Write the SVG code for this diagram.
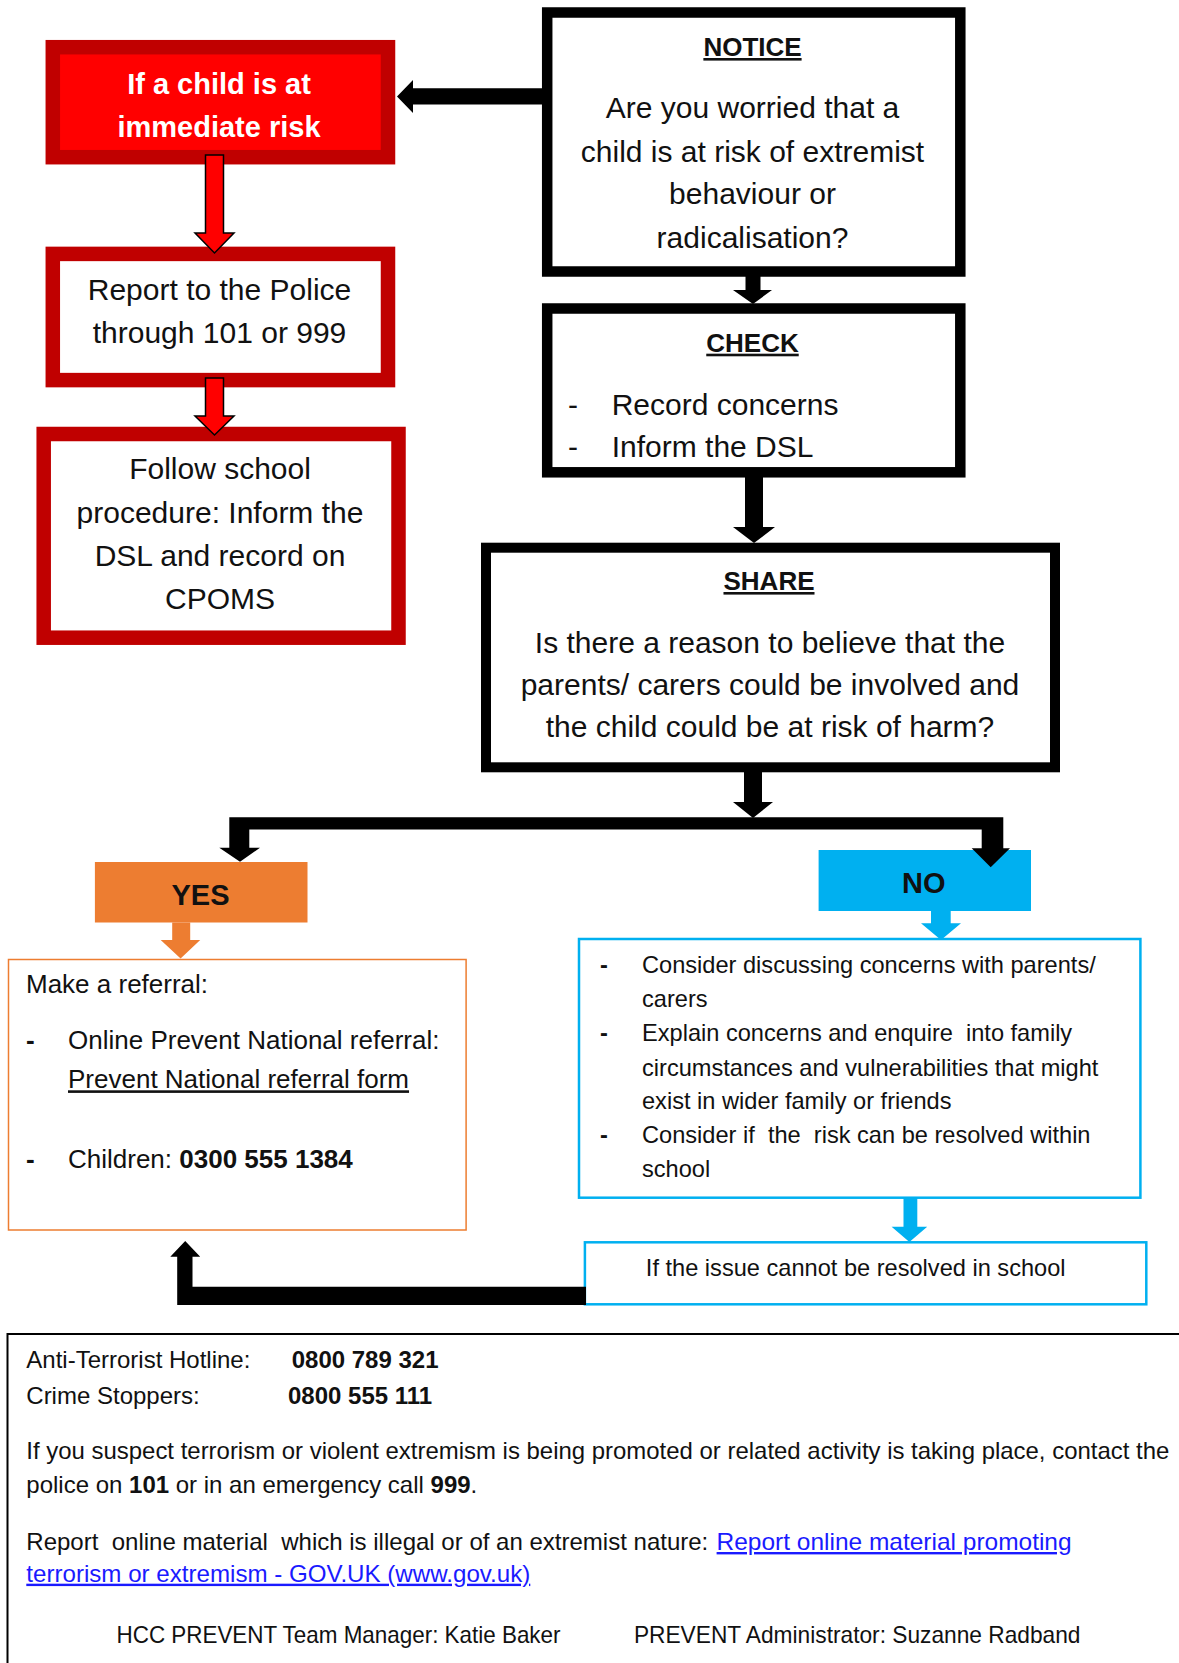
<svg xmlns="http://www.w3.org/2000/svg" width="1179" height="1663" viewBox="0 0 1179 1663">
<style>
text{font-family:"Liberation Sans",Arial,sans-serif;fill:#111;white-space:pre}
.b{font-weight:bold}
.c{text-anchor:middle}
.u{text-decoration:underline}
.m{font-size:30px}
.h{font-size:26px;font-weight:bold;text-decoration:underline}
.r{font-size:26px}
.s{font-size:23.6px}
.f{font-size:24px}
.lk{fill:#1a1aff;text-decoration:underline}
.redbox{fill:#fff;stroke:#C00000;stroke-width:14.5}
.blk{fill:#fff;stroke:#000;stroke-width:10.5}
.bl{fill:#fff;stroke:#00B0F0;stroke-width:2.5}
</style>
<rect width="1179" height="1663" fill="#fff"/>

<g id="immediate-risk">
<rect x="52.8" y="47.2" width="335.2" height="110" fill="#FF0000" stroke="#C00000" stroke-width="14.5"/>
<text class="b c" x="219" y="94.3" font-size="29" style="fill:#fff">If a child is at</text>
<text class="b c" x="219" y="137.3" font-size="29" style="fill:#fff">immediate risk</text>
</g>

<g id="report-police">
<rect class="redbox" x="52.8" y="253.9" width="335.2" height="126.2"/>
<text class="m c" x="219.5" y="299.5">Report to the Police</text>
<text class="m c" x="219.5" y="343">through 101 or 999</text>
</g>

<g id="follow-procedure">
<rect class="redbox" x="43.7" y="434" width="354.8" height="203.7"/>
<text class="m c" x="220" y="479.3">Follow school</text>
<text class="m c" x="220" y="523.3">procedure: Inform the</text>
<text class="m c" x="220" y="565.7">DSL and record on</text>
<text class="m c" x="220" y="609">CPOMS</text>
</g>

<g id="notice">
<rect class="blk" x="547.2" y="12.5" width="413.1" height="259"/>
<text class="h c" x="752.5" y="56">NOTICE</text>
<text class="m c" x="752.5" y="118.3">Are you worried that a</text>
<text class="m c" x="752.5" y="161.7">child is at risk of extremist</text>
<text class="m c" x="752.5" y="204.3">behaviour or</text>
<text class="m c" x="752.5" y="247.7">radicalisation?</text>
</g>

<g id="check">
<rect class="blk" x="547.2" y="308.5" width="413.1" height="163.8"/>
<text class="h c" x="752.5" y="351.7">CHECK</text>
<text class="m" x="568" y="415">-</text>
<text class="m" x="611.7" y="415" font-size="29">Record concerns</text>
<text class="m" x="568" y="456.7">-</text>
<text class="m" x="611.7" y="456.7" font-size="29">Inform the DSL</text>
</g>

<g id="share">
<rect x="486" y="547.7" width="569" height="219.6" fill="#fff" stroke="#000" stroke-width="10"/>
<text class="h c" x="769" y="590">SHARE</text>
<text class="m c" x="770" y="653.3">Is there a reason to believe that the</text>
<text class="m c" x="770" y="695">parents/ carers could be involved and</text>
<text class="m c" x="770" y="737.3">the child could be at risk of harm?</text>
</g>

<g id="yes">
<rect x="94.9" y="862" width="212.6" height="60.5" fill="#ED7D31"/>
<text class="b c" x="200.5" y="905" font-size="29">YES</text>
</g>

<g id="no">
<rect x="818.6" y="850" width="212.4" height="61" fill="#00B0F0"/>
<text class="b c" x="923.7" y="893" font-size="29">NO</text>
</g>

<g id="referral">
<rect x="8.5" y="959.5" width="457.6" height="270.5" fill="#fff" stroke="#ED7D31" stroke-width="1.5"/>
<text class="r" x="26" y="993.3">Make a referral:</text>
<text class="r b" x="26" y="1049.3">-</text>
<text class="r" x="68" y="1049.3">Online Prevent National referral:</text>
<text class="r u" x="68" y="1088.3">Prevent National referral form</text>
<text class="r b" x="26" y="1168.3">-</text>
<text class="r" x="68" y="1168.3">Children: <tspan class="b">0300 555 1384</tspan></text>
</g>

<g id="no-actions">
<rect class="bl" x="579" y="939" width="561.4" height="258.7"/>
<text class="s b" x="600" y="973.3">-</text>
<text class="s" x="642" y="973.3">Consider discussing concerns with parents/</text>
<text class="s" x="642" y="1006.7">carers</text>
<text class="s b" x="600" y="1041">-</text>
<text class="s" x="642" y="1041">Explain concerns and enquire  into family</text>
<text class="s" x="642" y="1075.7">circumstances and vulnerabilities that might</text>
<text class="s" x="642" y="1109.3">exist in wider family or friends</text>
<text class="s b" x="600" y="1143.3">-</text>
<text class="s" x="642" y="1143.3">Consider if  the  risk can be resolved within</text>
<text class="s" x="642" y="1176.7">school</text>
</g>

<g id="not-resolved">
<rect class="bl" x="584.9" y="1242.3" width="561.4" height="62"/>
<text class="s c" x="855.7" y="1276">If the issue cannot be resolved in school</text>
</g>

<g id="connectors">
<polygon fill="#000" points="542,88.3 413,88.3 413,80 397,96.5 413,113 413,104.5 542,104.5"/>
<polygon fill="#FF0000" stroke="#000" stroke-width="1.5" points="205.5,155 223.5,155 223.5,233 234,233 214.5,253 195,233 205.5,233"/>
<polygon fill="#FF0000" stroke="#000" stroke-width="1.5" points="205.5,378 223.5,378 223.5,416 234,416 214.5,435 195,416 205.5,416"/>
<polygon fill="#000" points="745.5,272 760.5,272 760.5,290 772,290 753,304 733,290 745.5,290"/>
<polygon fill="#000" points="745,472 763,472 763,527 775,527 754,543 733,527 745,527"/>
<polygon fill="#000" points="744,767 762,767 762,802 773,802 753,818 733,802 744,802"/>
<polygon fill="#000" points="229.3,817.3 1003.3,817.3 1003.3,848.3 1010,848.3 990.7,867.3 971.7,848.3 981.7,848.3 981.7,829.5 249.3,829.5 249.3,847.7 260,847.7 240,861.7 219.3,847.7 229.3,847.7"/>
<polygon fill="#ED7D31" points="172.2,922.5 190.2,922.5 190.2,940 200.2,940 180.6,958.5 160.7,940 172.2,940"/>
<polygon fill="#00B0F0" points="931,911 950.7,911 950.7,923.3 961,923.3 941,940 921,923.3 931,923.3"/>
<polygon fill="#00B0F0" points="903.5,1198 917.3,1198 917.3,1226.7 927.2,1226.7 909.4,1242 891.6,1226.7 903.5,1226.7"/>
<polygon fill="#000" points="586,1286.7 192.5,1286.7 192.5,1256.7 200.2,1256.7 185.2,1241 170.3,1256.7 177.2,1256.7 177.2,1305 586,1305"/>
</g>

<g id="footer">
<rect x="7.5" y="1334" width="1200" height="400" fill="none" stroke="#000" stroke-width="2"/>
<text class="f" x="26.3" y="1368">Anti-Terrorist Hotline:</text>
<text class="f b" x="291.7" y="1368">0800 789 321</text>
<text class="f" x="26.3" y="1404">Crime Stoppers:</text>
<text class="f b" x="288" y="1404">0800 555 111</text>
<text class="f" x="26.3" y="1459" textLength="1143" lengthAdjust="spacingAndGlyphs">If you suspect terrorism or violent extremism is being promoted or related activity is taking place, contact the</text>
<text class="f" x="26.3" y="1492.7">police on <tspan class="b">101</tspan> or in an emergency call <tspan class="b">999</tspan>.</text>
<text class="f" x="26.3" y="1550" textLength="682" lengthAdjust="spacingAndGlyphs">Report  online material  which is illegal or of an extremist nature:</text>
<text class="f lk" x="716.6" y="1550" textLength="355" lengthAdjust="spacingAndGlyphs">Report online material promoting</text>
<text class="f lk" x="26.3" y="1581.7" textLength="504" lengthAdjust="spacingAndGlyphs">terrorism or extremism - GOV.UK (www.gov.uk)</text>
<text class="f" x="116.5" y="1643" textLength="444" lengthAdjust="spacingAndGlyphs">HCC PREVENT Team Manager: Katie Baker</text>
<text class="f" x="633.9" y="1643" textLength="446.6" lengthAdjust="spacingAndGlyphs">PREVENT Administrator: Suzanne Radband</text>
</g>
</svg>
